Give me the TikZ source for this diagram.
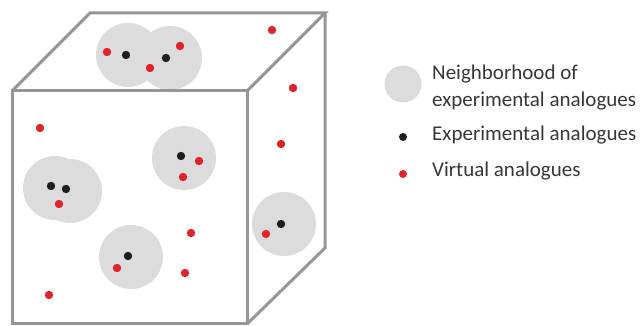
\documentclass[tikz,border=0pt]{standalone}
\usepackage{fontspec}
\setmainfont{Carlito}
\definecolor{edgegray}{RGB}{150,150,150}
\definecolor{hoodgray}{RGB}{220,220,220}
\definecolor{expblack}{RGB}{30,30,30}
\definecolor{virtred}{RGB}{226,34,40}
\definecolor{labelgray}{RGB}{55,55,55}
\tikzset{
  cubeedge/.style={draw=edgegray, line width=3pt, line join=miter},
  hood/.style={fill=hoodgray},
  expdot/.style={fill=expblack},
  virtdot/.style={fill=virtred},
  legendtext/.style={anchor=west, text=labelgray, font=\fontsize{21}{27}\selectfont, inner sep=0pt, align=left}
}
\begin{document}
\begin{tikzpicture}[x=1pt, y=-1pt]
\useasboundingbox (0,0) rectangle (641,326);

% neighbourhoods around the experimental analogues
\foreach \p in {(128,55),(170,58),(55,188),(70,191),(184,158),(131,257),(284,224)}
  \fill[hood] \p circle (32);

% cube: front face, top face and right face
\draw[cubeedge] (12,91) rectangle (247,324);
\draw[cubeedge] (12,91) -- (90,13) -- (325,13) -- (247,91);
\draw[cubeedge] (325,13) -- (325,248) -- (247,324);

% experimental analogues
\foreach \p in {(126,55),(166,58),(181,156),(51,186),(66,189),(128,256),(281,224)}
  \fill[expdot] \p circle (4.2);

% virtual analogues
\foreach \p in {(107,52),(180,46),(150,68),(272,30),(293,88),(281,144),(40,128),
                (199,161),(183,177),(59,204),(191,233),(117,268),(185,273),(49,295),(266,234)}
  \fill[virtdot] \p circle (4.2);

% legend
\fill[hood] (403,84) circle (18.5);
\fill[expdot] (403,137) circle (4);
\fill[virtdot] (403,174) circle (4);
\node[legendtext] (lhood) at (432,88) {Neighborhood of\\experimental analogues};
\node[legendtext] (lexp) at (432,135) {Experimental analogues};
\node[legendtext] (lvirt) at (432,171) {Virtual analogues};
\end{tikzpicture}
\end{document}
